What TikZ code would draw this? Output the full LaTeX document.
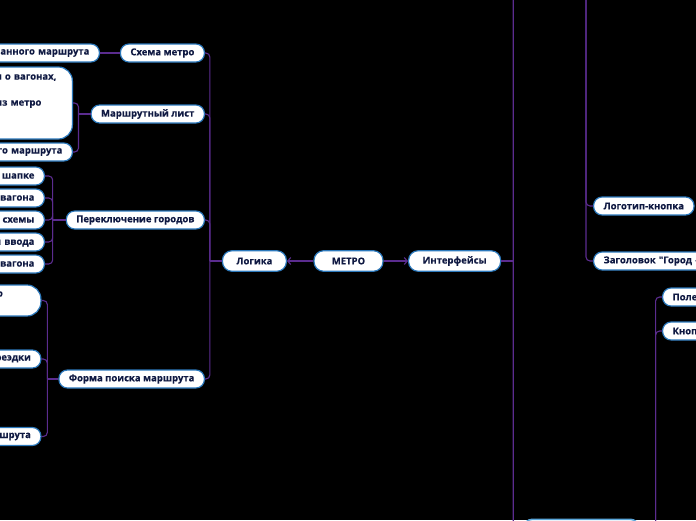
\documentclass[tikz,border=0pt]{standalone}
\usepackage{fontspec}
\setmainfont{Open Sans}[FakeBold=0.2, Ligatures=TeXOff]
\usepackage{xcolor}
\usetikzlibrary{arrows.meta}
\definecolor{night}{HTML}{000000}
\definecolor{ink}{HTML}{0F1942}
\definecolor{rim}{HTML}{2C79BC}
\definecolor{rimLight}{HTML}{5AA6DA}
\definecolor{branch}{HTML}{5B2C8F}
\tikzset{
  core/.style={draw=rim, fill=white, line width=1.2pt, rounded corners=9.5pt, minimum height=20.5pt, inner xsep=14pt, inner ysep=0pt, text=ink, font=\fontsize{9.5}{13}\selectfont\bfseries},
  leaf/.style={core, minimum height=18pt, rounded corners=8.5pt, inner xsep=10pt},
  cutl/.style={leaf, text width=#1, align=right},
  cutl/.default=120pt,
  cutr/.style={leaf, text width=#1, align=left},
  cutr/.default=120pt,
  note/.style={leaf, align=right, rounded corners=14pt, inner ysep=4.5pt, minimum height=#1},
  link/.style={draw=branch, line width=1.1pt, rounded corners=4pt},
  linkto/.style={draw=branch, line width=1.1pt, -{Straight Barb[length=3pt,width=7pt]}},
}
\begin{document}
\begin{tikzpicture}[x=1pt, y=-1pt]
  \useasboundingbox (0,0) rectangle (696,520);
  \clip (0,0) rectangle (696,520);
  \fill[night] (0,0) rectangle (696,520);

  % centre and the two main branches
  \node[core, minimum width=69pt] (metro) at (348.5,261) {МЕТРО};
  \node[core, anchor=east] (logic) at (287,261) {Логика};
  \node[core, anchor=west] (iface) at (408,261) {Интерфейсы};
  \draw[linkto] (metro) -- (logic);
  \draw[linkto] (metro) -- (iface);

  % left side: logic
  \node[leaf, anchor=east] (scheme) at (205,53) {Схема метро};
  \node[leaf, anchor=east] (routelist) at (205,114) {Маршрутный лист};
  \node[leaf, anchor=east] (citysw) at (205,220) {Переключение городов};
  \node[leaf, anchor=east] (searchform) at (205,379) {Форма поиска маршрута};
  \draw[link] (logic.west) -- ++(-12,0) coordinate (logicfork);
  \foreach \c in {scheme,routelist,citysw,searchform}
    \draw[link] (logicfork) |- (\c.east);

  \node[cutl, anchor=east] (schemeroute) at (100,53) {ранного маршрута};
  \draw[link] (scheme) -- (schemeroute);

  \node[note=72pt, text width=90pt, anchor=east] (routehints) at (73,103) {и о вагонах,\rule{6pt}{0pt}\\\mbox{}\\из метро\rule{21pt}{0pt}\\\mbox{}\\\mbox{}};
  \node[cutl, anchor=east] (routetime) at (73,152) {го маршрута};
  \draw[link] (routelist.west) -- ++(-12,0) coordinate (listfork);
  \foreach \c in {routehints,routetime}
    \draw[link] (listfork) |- (\c.east);

  \node[cutl, anchor=east] (cityhead) at (45,176) {в шапке};
  \node[cutl, anchor=east] (citycar) at (45,198) {вагона};
  \node[cutl, anchor=east] (citymap) at (45,220) {и схемы};
  \node[cutl, anchor=east] (cityinput) at (45,242) {й ввода};
  \node[cutl, anchor=east] (citywagon) at (45,264) {вагона};
  \draw[link] (citysw.west) -- ++(-13,0) coordinate (cityfork);
  \foreach \c in {cityhead,citycar,citymap,cityinput,citywagon}
    \draw[link] (cityfork) |- (\c.east);

  \node[note=31pt, text width=60pt, anchor=east] (searchhint) at (41.5,300.5) {о\rule{28pt}{0pt}\\\mbox{}};
  \node[cutl, anchor=east] (tripdate) at (41.5,359) {реэдки};
  \node[cutl, anchor=east] (searchgo) at (41.5,436.5) {шрута};
  \draw[link] (searchform.west) -- ++(-11,0) coordinate (formfork);
  \foreach \c in {searchhint,tripdate,searchgo}
    \draw[link] (formfork) |- (\c.east);

  % right side: interfaces
  \coordinate (ifacetop) at (523,-30);
  \node[leaf, draw=rimLight, line width=1.6pt, minimum width=115pt, minimum height=20pt, anchor=north west] (panel) at (523,518.5) {};
  \draw[link] (iface.east) -- ++(12,0) coordinate (ifacefork);
  \draw[link] (ifacefork) |- (ifacetop);
  \draw[link] (ifacefork) |- (panel.west);

  \coordinate (headend) at (578,-40);
  \node[leaf, anchor=west] (logo) at (593,206) {Логотип-кнопка};
  \node[cutr, anchor=west] (citytitle) at (593,261) {Заголовок "Город -};
  \draw[link] (headend) -- ++(8,0) coordinate (headfork);
  \foreach \c in {logo,citytitle}
    \draw[link] (headfork) |- (\c.west);

  \node[cutr, anchor=west] (field) at (662,297) {Поле};
  \node[cutr, anchor=west] (findbtn) at (662,331) {Кноп};
  \draw[link] (panel.east) -- ++(16,0) coordinate (panelfork);
  \foreach \c in {field,findbtn}
    \draw[link] (panelfork) |- (\c.west);
\end{tikzpicture}
\end{document}
